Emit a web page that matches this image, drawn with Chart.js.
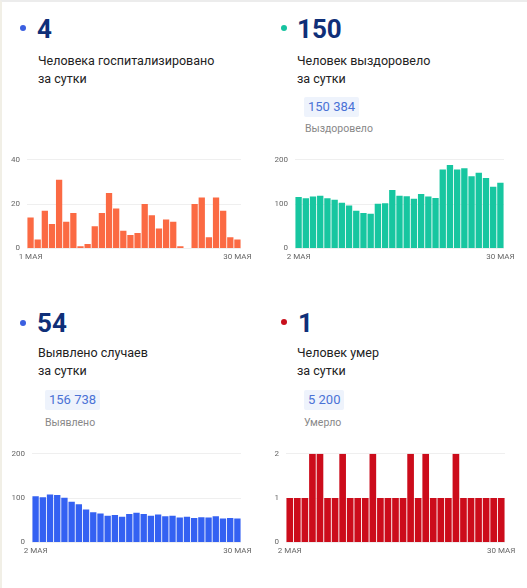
<!DOCTYPE html>
<html><head><meta charset="utf-8">
<script src="https://cdn.jsdelivr.net/npm/chart.js@4.4.1/dist/chart.umd.min.js"></script>
<style>
html,body{margin:0;padding:0;background:#fff;}
body{width:527px;height:588px;position:relative;overflow:hidden;font-family:Roboto,"Noto Sans",sans-serif;}
.frame{position:absolute;left:0;top:0;width:527px;height:588px;border-top:2px solid #ececec;border-left:2px solid #f1efe6;box-sizing:border-box;}
.dot{position:absolute;width:6px;height:6px;border-radius:50%;}
.num{position:absolute;font-weight:700;font-size:26px;line-height:26px;color:#0f2f78;}
.lbl{position:absolute;font-size:12.5px;line-height:18px;color:#222;}
.badge{position:absolute;background:#eef3fc;color:#4a72d6;font-size:13px;line-height:20px;height:20px;padding:0 4px;border-radius:2px;}
.sub{position:absolute;font-size:10.5px;color:#888;}
.cw{position:absolute;}
</style></head>
<body>
<div class="frame"></div>

<div class="dot" style="left:20px;top:25px;background:#3b5fe0"></div>
<div class="num" style="left:37px;top:16px">4</div>
<div class="lbl" style="left:38px;top:52px">Человека госпитализировано<br>за сутки</div>

<div class="dot" style="left:281px;top:25px;background:#16c3a0"></div>
<div class="num" style="left:297px;top:16px">150</div>
<div class="lbl" style="left:297px;top:52px">Человек выздоровело<br>за сутки</div>
<div class="badge" style="left:304px;top:97px">150 384</div>
<div class="sub" style="left:305px;top:122px">Выздоровело</div>

<div class="dot" style="left:20px;top:320px;background:#3b5fe0"></div>
<div class="num" style="left:37px;top:310px">54</div>
<div class="lbl" style="left:38px;top:344px">Выявлено случаев<br>за сутки</div>
<div class="badge" style="left:45px;top:390px">156 738</div>
<div class="sub" style="left:45px;top:416px">Выявлено</div>

<div class="dot" style="left:281px;top:319px;background:#c8101c"></div>
<div class="num" style="left:298px;top:310px">1</div>
<div class="lbl" style="left:297px;top:344px">Человек умер<br>за сутки</div>
<div class="badge" style="left:304px;top:390px">5 200</div>
<div class="sub" style="left:304px;top:416px">Умерло</div>

<div class="cw" style="left:0;top:148px;width:256px;height:118px"><canvas id="c1"></canvas></div>
<div class="cw" style="left:263px;top:148px;width:258px;height:118px"><canvas id="c2"></canvas></div>
<div class="cw" style="left:0;top:442px;width:256px;height:118px"><canvas id="c3"></canvas></div>
<div class="cw" style="left:263px;top:442px;width:258px;height:118px"><canvas id="c4"></canvas></div>

<script>
const daysMay1 = Array.from({length:30},(_,i)=>(i+1)+' МАЯ');
const daysMay2 = Array.from({length:29},(_,i)=>(i+2)+' МАЯ');

const hospitalized = [14,4,17,11,31,12,16,1,2,10,16,25,18,8,6,7,20,15,9,13,12,1,0,20,23,5,23,17,5,4];
const recovered = [116,113,117,119,113,110,103,97,85,80,78,101,102,132,119,118,112,123,117,114,178,188,178,181,163,171,159,139,148];
const detected = [104,102,108,107,101,92,86,74,68,65,60,62,58,64,67,64,60,63,59,60,56,58,55,57,56,59,54,55,54];
const deaths = [1,1,1,2,2,1,1,2,1,1,1,2,1,1,1,1,2,1,2,1,1,1,2,1,1,1,1,1,1];

const yTicks1 = {max:40, step:20};
const yTicks2 = {max:200, step:100};
const yTicks3 = {max:200, step:100};
const yTicks4 = {max:2, step:1};

function make(id, labels, data, color, yt, yWidth, padRight){
  new Chart(document.getElementById(id), {
    type:'bar',
    data:{labels, datasets:[{data, backgroundColor:color, borderWidth:0, barPercentage:0.88, categoryPercentage:1}]},
    options:{
      responsive:true, maintainAspectRatio:false, animation:false,
      layout:{padding:{left:0,right:padRight,top:0,bottom:0}},
      plugins:{legend:{display:false}, tooltip:{enabled:false}},
      scales:{
        x:{
          grid:{display:false, drawTicks:false}, border:{display:false},
          ticks:{autoSkip:false, maxRotation:0, minRotation:0, padding:4, color:'#666', font:{size:8, family:'Roboto'},
            callback:(v,i,t)=> (i===0||i===t.length-1) ? labels[i] : ''},
          afterFit:(s)=>{s.paddingLeft=0; s.paddingRight=0;}
        },
        y:{
          min:0, max:yt.max, grid:{color:'#efefef', drawTicks:false}, border:{display:false},
          ticks:{stepSize:yt.step, padding:7, color:'#666', font:{size:8, family:'Roboto'}},
          afterFit:(s)=>{s.width=yWidth;}
        }
      }
    }
  });
}
make('c1', daysMay1, hospitalized, '#fb6a43', yTicks1, 27, 15);
make('c2', daysMay2, recovered, '#17c6a0', yTicks2, 32, 17);
make('c3', daysMay2, detected, '#3461f2', yTicks3, 32, 15);
make('c4', daysMay2, deaths, '#cc0c1b', yTicks4, 23, 16);
</script>
</body></html>
